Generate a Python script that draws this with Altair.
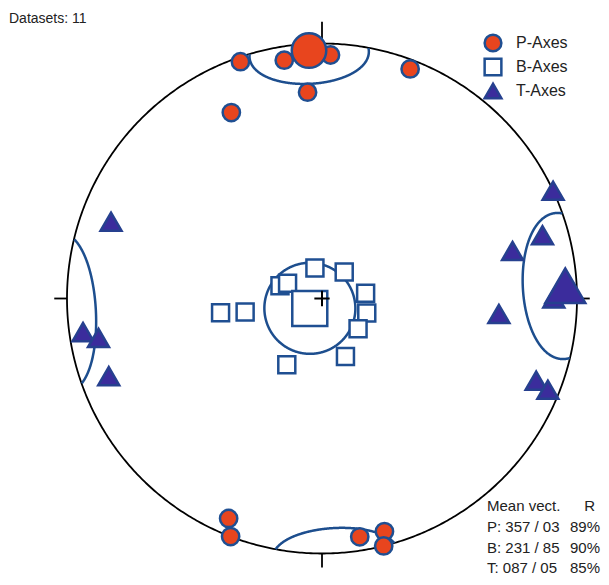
import math
import altair as alt
import numpy as np
import pandas as pd

# ---------------- data (trend / plunge in degrees) ----------------
P_trend = [341, 334, 351, 2, 356, 21, 203, 201, 171, 165, 166]
P_plunge = [2, 20, 6, 5, 20, 4, 7, 0, 6, 6, 0]
B_trend = [262, 260, 287, 294, 347, 40, 83, 108, 130, 208, 158]
B_plunge = [57, 65, 76, 78, 80, 79, 76, 75, 75, 66, 70]
T_trend = [65, 74, 76, 90, 95, 111, 112, 290, 262, 260, 250]
T_plunge = [0, 11, 24, 10, 31, 11, 5, 13, 6, 12, 12]

mean_labels = ["P", "B", "T"]
mean_trend = [357, 231, 87]
mean_plunge = [3, 85, 5]
mean_R = [89, 90, 85]

cone_trend = [357, 231, 87]
cone_plunge = [3, 85, 5]
cone_angle = [13.8, 14.5, 17.2]

n_datasets = 11
types = ["P-Axes", "B-Axes", "T-Axes"]

# ---------------- styling ----------------
RED = "#e8451e"
EDGE = "#1f4f92"
TRI_FILL = "#3b2c9c"
TRI_EDGE = "#26408f"
CONE = "#1d4e8e"
FONT = "Liberation Sans"

W, H = 593, 569
CX, CY, R = 314.0, 290.5, 255.0
XDOM = [(0 - CX) / R, (W - CX) / R]
YDOM = [-(H - CY) / R, CY / R]
xs = alt.Scale(domain=XDOM, nice=False, zero=False)
ys = alt.Scale(domain=YDOM, nice=False, zero=False)

SQ2 = math.sqrt(2)


def project(trend, plunge):
    t = np.radians(np.asarray(trend, float))
    p = np.radians(np.clip(np.asarray(plunge, float), 0, 90))
    r = SQ2 * np.sin((np.pi / 2 - p) / 2)
    return r * np.sin(t), r * np.cos(t)


# ---------------- points ----------------
sizes = {
    ("P-Axes", "single"): 300, ("P-Axes", "mean"): 1190,
    ("B-Axes", "single"): 289, ("B-Axes", "mean"): 1225,
    ("T-Axes", "single"): 441, ("T-Axes", "mean"): 1600,
}
rows = []
for name, tr, pl in [("B-Axes", B_trend, B_plunge), ("T-Axes", T_trend, T_plunge),
                     ("P-Axes", P_trend, P_plunge)]:
    x, y = project(tr, pl)
    for xi, yi in zip(x, y):
        rows.append(dict(x=xi, y=yi, type=name, size=sizes[(name, "single")]))
for lab, tr, pl in zip(["B", "T", "P"], [mean_trend[1], mean_trend[2], mean_trend[0]],
                       [mean_plunge[1], mean_plunge[2], mean_plunge[0]]):
    name = lab + "-Axes"
    x, y = project([tr], [pl])
    rows.append(dict(x=x[0], y=y[0], type=name, size=sizes[(name, "mean")]))
pts = pd.DataFrame(rows)
pts["idx"] = range(len(pts))

# ---------------- cones ----------------
def cone(t0, p0, a, n=721):
    t0, p0, a = map(math.radians, (t0, p0, a))
    v = np.array([math.cos(p0) * math.cos(t0), math.cos(p0) * math.sin(t0), math.sin(p0)])
    u1 = np.array([-math.sin(p0) * math.cos(t0), -math.sin(p0) * math.sin(t0), math.cos(p0)])
    u2 = np.cross(v, u1)
    phi = np.linspace(0, 2 * np.pi, n, endpoint=False)
    w = math.cos(a) * v[:, None] + math.sin(a) * (np.cos(phi) * u1[:, None] + np.sin(phi) * u2[:, None])
    lower = w[2] >= 0
    w = np.where(lower, w, -w)
    h = np.sqrt(w[0] ** 2 + w[1] ** 2)
    r = np.sqrt(np.clip(1 - w[2], 0, None))
    x = r * w[1] / h
    y = r * w[0] / h
    if lower.all() or (~lower).all():
        x = np.append(x, x[0]); y = np.append(y, y[0])
        return [(x, y)]
    k = int(np.argmax(lower != np.roll(lower, 1)))
    x, y, lower = np.roll(x, -k), np.roll(y, -k), np.roll(lower, -k)
    segs = []
    start = 0
    for i in range(1, n + 1):
        if i == n or lower[i] != lower[i - 1]:
            segs.append((x[start:i], y[start:i]))
            start = i
    return segs

crow = []
for lab, t0, p0, a in zip(mean_labels, cone_trend, cone_plunge, cone_angle):
    for j, (x, y) in enumerate(cone(t0, p0, a)):
        for i, (xi, yi) in enumerate(zip(x, y)):
            crow.append(dict(x=xi, y=yi, seg=f"{lab}{j}", i=i))
cones = pd.DataFrame(crow)

th = np.linspace(0, 2 * np.pi, 721)
prim = pd.DataFrame({"x": np.sin(th), "y": np.cos(th), "i": range(len(th))})

tick_dir = [(0, 1), (1, 0), (0, -1), (-1, 0)]
tick_len = [0.085, 0.05, 0.055, 0.05]
ticks = pd.DataFrame([dict(x=dx, y=dy, x2=dx * (1 + L), y2=dy * (1 + L))
                      for (dx, dy), L in zip(tick_dir, tick_len)])
cross = pd.DataFrame([dict(x=-0.03, y=0, x2=0.03, y2=0), dict(x=0, y=-0.03, x2=0, y2=0.03)])

# ---------------- layers ----------------
prim_layer = alt.Chart(prim).mark_line(color="black", strokeWidth=1.8).encode(
    x=alt.X("x:Q", scale=xs, axis=None), y=alt.Y("y:Q", scale=ys, axis=None),
    order=alt.Order("i:Q"))
tick_layer = alt.Chart(ticks).mark_rule(color="black", strokeWidth=1.8).encode(
    x=alt.X("x:Q", scale=xs, axis=None), y=alt.Y("y:Q", scale=ys, axis=None), x2="x2:Q", y2="y2:Q")
cone_layer = alt.Chart(cones).mark_line(color=CONE, strokeWidth=2.5).encode(
    x=alt.X("x:Q", scale=xs, axis=None), y=alt.Y("y:Q", scale=ys, axis=None),
    detail="seg:N", order=alt.Order("i:Q"))

leg = alt.Legend(orient="none", legendX=475, legendY=25, title=None, labelFont=FONT,
                 labelFontSize=16, labelColor="#222222", symbolSize=280, symbolStrokeWidth=2.5,
                 rowPadding=-7, labelOffset=13, padding=0)
point_layer = alt.Chart(pts).mark_point(filled=True, opacity=1, strokeWidth=2.5).encode(
    x=alt.X("x:Q", scale=xs, axis=None), y=alt.Y("y:Q", scale=ys, axis=None),
    shape=alt.Shape("type:N", scale=alt.Scale(domain=types, range=["circle", "square", "triangle-up"]), legend=leg),
    fill=alt.Fill("type:N", scale=alt.Scale(domain=types, range=[RED, "white", TRI_FILL]), legend=leg),
    stroke=alt.Stroke("type:N", scale=alt.Scale(domain=types, range=[EDGE, EDGE, TRI_EDGE]), legend=leg),
    size=alt.Size("size:Q", scale=None, legend=None),
    order=alt.Order("idx:Q"))
cross_layer = alt.Chart(cross).mark_rule(color="black", strokeWidth=2).encode(
    x=alt.X("x:Q", scale=xs, axis=None), y=alt.Y("y:Q", scale=ys, axis=None), x2="x2:Q", y2="y2:Q")


def label(text, px, py, size=15, align="left"):
    return alt.Chart(pd.DataFrame({"t": [text]})).mark_text(
        align=align, baseline="alphabetic", font=FONT, fontSize=size, color="#222222").encode(
        x=alt.value(px), y=alt.value(py), text="t:N")


texts = [label(f"Datasets: {n_datasets}", 1, 15, 14),
         label("Mean vect.", 479, 503), label("R", 587, 503, align="right")]
for k, (lab, t, p, rr) in enumerate(zip(mean_labels, mean_trend, mean_plunge, mean_R)):
    yy = 524 + 20.5 * k
    texts.append(label(f"{lab}: {t:03d} / {p:02d}", 479, yy))
    texts.append(label(f"{rr}%", 592, yy, align="right"))

chart = alt.layer(prim_layer, tick_layer, cone_layer, point_layer, cross_layer, *texts).properties(
    width=W, height=H, padding=0, autosize=alt.AutoSizeParams(type="none"),
    background="white"
).configure_view(stroke=None)

chart.save("out.html", embed_options={"renderer": "svg", "actions": False})
